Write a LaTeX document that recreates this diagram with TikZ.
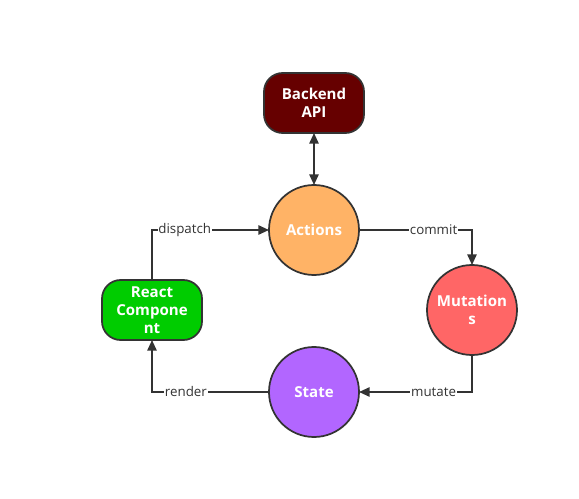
\documentclass[tikz,border=0pt]{standalone}
\usepackage{fontspec}
\setmainfont{Open Sans}
\usetikzlibrary{arrows.meta}
\definecolor{edge}{HTML}{333333}
\definecolor{backc}{HTML}{660000}
\definecolor{actc}{HTML}{FFB366}
\definecolor{mutc}{HTML}{FF6666}
\definecolor{statec}{HTML}{B266FF}
\definecolor{reactc}{HTML}{00CC00}
\tikzset{
  every node/.style={inner sep=0pt, outer sep=0pt},
  roundbox/.style={draw=edge, line width=1.3pt, rounded corners=14pt, minimum width=75pt, minimum height=45pt, text=white, font=\bfseries\fontsize{11.3}{13.5}\selectfont, align=center},
  circnode/.style={circle, draw=edge, line width=1.3pt, minimum size=67.5pt, text=white, font=\bfseries\fontsize{11.3}{13.5}\selectfont, align=center},
  conn/.style={draw=edge, line width=1.3pt, -{Triangle[length=8pt,width=7pt]}},
  lbl/.style={fill=white, text=edge, font=\fontsize{10}{12}\selectfont, inner sep=0.5pt}
}
\begin{document}
\begin{tikzpicture}[x=0.75pt,y=-0.75pt]
\useasboundingbox (0,0) rectangle (579,499);
\node[roundbox, fill=backc] (api) at (314,103) {Backend\\API};
\node[circnode, fill=actc] (act) at (314,230) {Actions};
\node[circnode, fill=mutc] (mut) at (472,310) {Mutation\\s};
\node[circnode, fill=statec] (st) at (314,392) {State};
\node[roundbox, fill=reactc] (rc) at (152,310) {React\\Compone\\nt};
\draw[conn, {Triangle[length=8pt,width=7pt]}-{Triangle[length=8pt,width=7pt]}] (api.south) -- (act.north);
\draw[conn] (rc.north) |- node[lbl, pos=0.64] {dispatch} (act.west);
\draw[conn] (act.east) -| node[lbl, pos=0.33] {commit} (mut.north);
\draw[conn] (mut.south) |- node[lbl, pos=0.67] {mutate} (st.east);
\draw[conn] (st.west) -| node[lbl, pos=0.355] {render} (rc.south);
\end{tikzpicture}
\end{document}
